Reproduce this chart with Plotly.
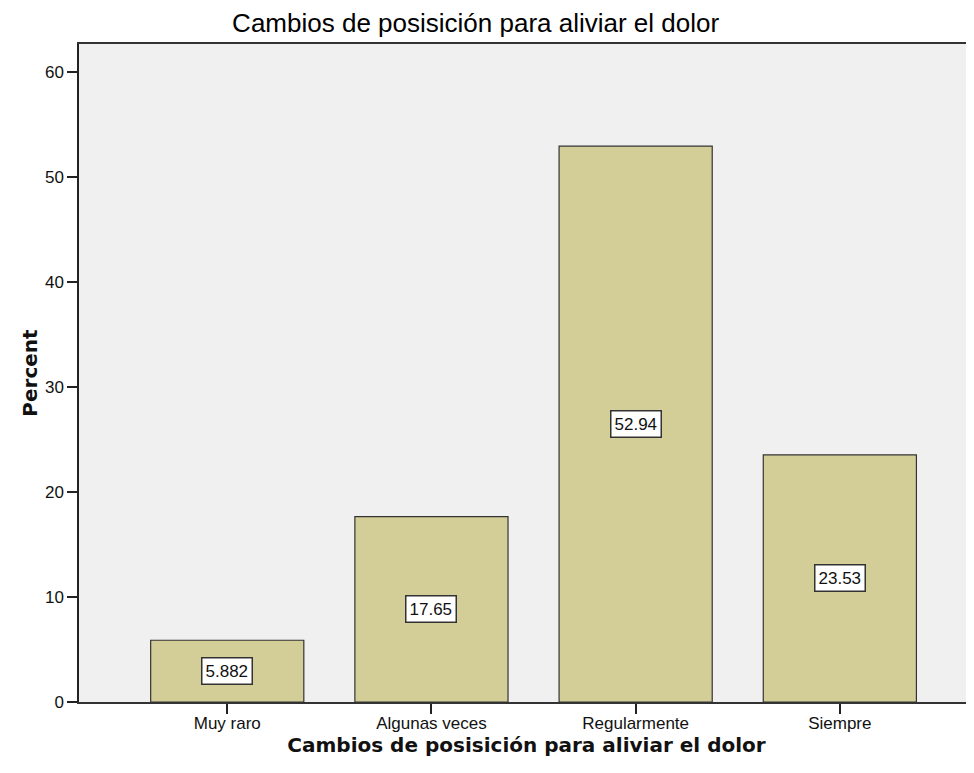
import plotly.graph_objects as go

categories = ["Muy raro", "Algunas veces", "Regularmente", "Siempre"]
percent = [5.882, 17.65, 52.94, 23.53]
labels = ["5.882", "17.65", "52.94", "23.53"]
y_ticks = [0, 10, 20, 30, 40, 50, 60]

_BAR = "#D3CE97"
_PLOT_BG = "#F0F0F0"
_FONT = "Liberation Sans, Arial, sans-serif"
_BOLD = "DejaVu Sans, Verdana, sans-serif"

fig = go.Figure(go.Bar(
    x=list(range(len(categories))), y=percent, width=0.75,
    marker=dict(color=_BAR, line=dict(color="#333333", width=1.2)),
    hoverinfo="skip"))

# value boxes sit half-way up each bar, as in the SPSS output
for i, (v, t) in enumerate(zip(percent, labels)):
    fig.add_annotation(x=i, y=v / 2, text=t, showarrow=False,
                       font=dict(family=_FONT, size=17, color="#111"),
                       bgcolor="white", bordercolor="#333", borderwidth=1.5,
                       borderpad=3)

# the page body adds an 8px margin, so the figure is 8px smaller than the window
fig.update_layout(
    width=966, height=765, showlegend=False,
    paper_bgcolor="white", plot_bgcolor=_PLOT_BG,
    margin=dict(l=71, r=0, t=36, b=71),
    title=dict(text="Cambios de posisición para aliviar el dolor",
               x=0.232, xanchor="left", xref="container",
               y=0.981, yanchor="middle",
               font=dict(family=_FONT, size=26, color="#000")),
    xaxis=dict(range=[-0.726, 3.657], tickmode="array",
               tickvals=list(range(len(categories))), ticktext=categories,
               ticks="outside", ticklen=10, tickcolor="#222", tickwidth=1.5,
               ticklabelstandoff=-5,
               showline=True, linecolor="#333", linewidth=1.8, mirror=True,
               showgrid=False, zeroline=False,
               tickfont=dict(family=_FONT, size=17, color="#111"),
               title=dict(text="<b>Cambios de posisición para aliviar el dolor</b>",
                          standoff=5,
                          font=dict(family=_BOLD, size=20, color="#111"))),
    yaxis=dict(range=[0, 62.67], tickmode="array", tickvals=y_ticks,
               ticks="outside", ticklen=10, tickcolor="#222", tickwidth=1.5,
               showline=True, linecolor="#222", linewidth=1.5, mirror=False,
               showgrid=False, zeroline=False,
               tickfont=dict(family=_FONT, size=17, color="#111"),
               title=dict(text="<b>Percent</b>", standoff=2,
                          font=dict(family=_BOLD, size=20, color="#111"))),
)

fig.write_html("out.html")
